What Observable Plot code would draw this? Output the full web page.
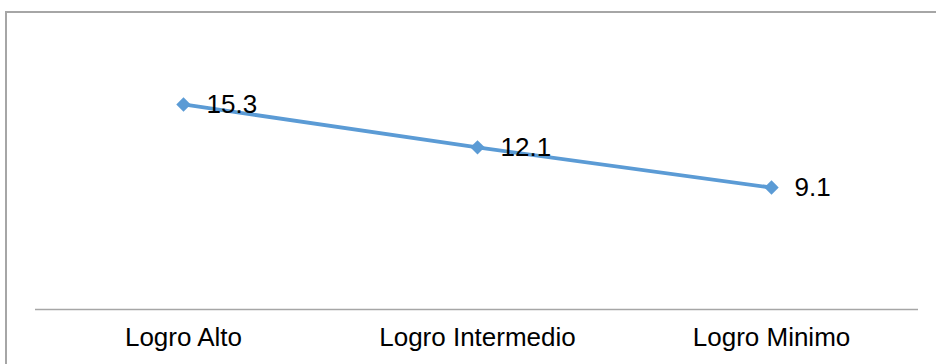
<!DOCTYPE html>
<html>
<head>
<meta charset="utf-8">
<script src="https://cdn.jsdelivr.net/npm/d3@7"></script>
<script src="https://cdn.jsdelivr.net/npm/@observablehq/plot@0.6"></script>
<style>
  html, body { margin: 0; padding: 0; background: #fff; }
  #wrap { position: relative; width: 936px; height: 364px; overflow: hidden; }
  #border { position: absolute; left: 5px; top: 11px; width: 940px; height: 370px;
            border-left: 2px solid #a6a6a6; border-top: 2px solid #a6a6a6; box-sizing: border-box; }
  #chart { position: absolute; left: 0; top: 0; }
</style>
</head>
<body>
<div id="wrap"><div id="chart"></div><div id="border"></div></div>
<script>
const categories = ["Logro Alto", "Logro Intermedio", "Logro Minimo"];
const values = [15.3, 12.1, 9.1];
const labels = ["15.3", "12.1", "9.1"];

const data = categories.map((c, i) => ({category: c, value: values[i], label: labels[i]}));
const blue = "#5b9bd5";
const font = "'Liberation Sans', Arial, sans-serif";

const chart = Plot.plot({
  width: 936,
  height: 364,
  marginLeft: 35,
  marginRight: 18,
  marginTop: 41,
  marginBottom: 55,
  style: {fontFamily: font, background: "transparent", color: "#000"},
  x: {type: "point", domain: categories, padding: 0.5, label: null},
  y: {domain: [0, 20], axis: null},
  marks: [
    Plot.ruleY([0], {stroke: "#a6a6a6", strokeWidth: 1.5}),
    Plot.axisX({tickSize: 0, tickPadding: 18, fontSize: 26, fill: "#000", label: null}),
    Plot.line(data, {x: "category", y: "value", stroke: blue, strokeWidth: 3.75}),
    Plot.dot(data, {x: "category", y: "value", symbol: "diamond2", r: 6.5, fill: blue, stroke: "none"}),
    Plot.text(data, {x: "category", y: "value", text: "label", dx: 23, textAnchor: "start", fontSize: 26, fill: "#000"})
  ]
});
document.getElementById("chart").appendChild(chart);
</script>
</body>
</html>
